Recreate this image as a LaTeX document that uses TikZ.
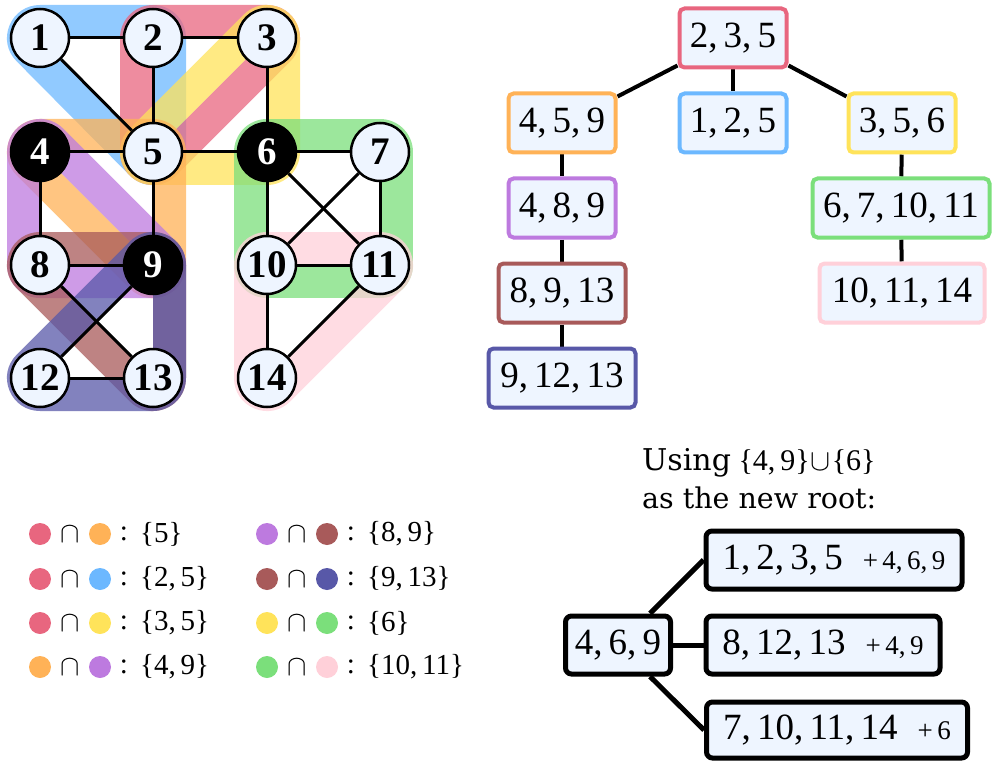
\RequirePackage{fix-cm}
\documentclass[tikz,border=0pt]{standalone}
\usepackage{fontspec}
\setmainfont{Liberation Serif}
\newfontfamily\schfont{DejaVu Serif}
\usetikzlibrary{backgrounds}
\definecolor{cRed}{HTML}{E8667F}
\definecolor{cOrange}{HTML}{FFB257}
\definecolor{cBlue}{HTML}{6CB8FF}
\definecolor{cYellow}{HTML}{FFE35A}
\definecolor{cPurple}{HTML}{BD7ADF}
\definecolor{cBrown}{HTML}{A85A5A}
\definecolor{cIndigo}{HTML}{5858A8}
\definecolor{cGreen}{HTML}{7BDF7B}
\definecolor{cPink}{HTML}{FFD0D9}
\definecolor{nfill}{HTML}{EEF5FF}
\tikzset{
 gnode/.style={circle,draw=black,line width=2.5pt,fill=nfill,minimum size=58pt,inner sep=0pt,font=\fontsize{39}{39}\selectfont\bfseries},
 bnode/.style={gnode,fill=black,text=white},
 gedge/.style={line width=3pt},
 tbox/.style={draw=#1,line width=4pt,rounded corners=5pt,fill=nfill,minimum height=59pt,inner sep=0pt,font=\fontsize{37}{37}\selectfont},
 rbox/.style={draw=black,line width=5pt,rounded corners=6pt,fill=nfill,minimum height=58pt,inner sep=0pt,font=\fontsize{37}{37}\selectfont},
 tedge/.style={line width=4pt},
 redge/.style={line width=5pt},
 ldot/.style={circle,fill=#1,minimum size=22pt,inner sep=0pt},
 ltxt/.style={font=\fontsize{29}{29}\selectfont,inner sep=0pt}
}
\newcommand\band[2]{\begin{scope}\clip (-100,-100) -- (-100,900) -- (1100,900) -- (1100,-100) -- cycle #2 -- cycle;\draw[line width=66pt,line join=round,draw=#1,draw opacity=.75] #2 -- cycle;\end{scope}}
\newcommand\legrow[6]{%
 \node[ldot=#4] (#1a) at (#2,#3) {};
 \node[ltxt] (#1b) at (#2+30,#3) {$\cap$};
 \node[ldot=#5] (#1c) at (#2+60,#3) {};
 \node[ltxt] (#1d) at (#2+84,#3) {:};
 \node[ltxt,anchor=west] (#1e) at (#2+100,#3) {\{#6\}};}
\newcommand\plus[1]{\hspace{20pt}{\fontsize{27}{27}\selectfont +\,#1}}
\begin{document}
\begin{tikzpicture}[x=1pt,y=-1pt]
\useasboundingbox (0,0) rectangle (993,762);
% graph coordinates
\coordinate (c1) at (40,38);
\coordinate (c2) at (153,38);
\coordinate (c3) at (267,38);
\coordinate (c4) at (40,152);
\coordinate (c5) at (153,152);
\coordinate (c6) at (267,152);
\coordinate (c7) at (380,152);
\coordinate (c8) at (40,265);
\coordinate (c9) at (153,265);
\coordinate (c10) at (267,265);
\coordinate (c11) at (380,265);
\coordinate (c12) at (40,378);
\coordinate (c13) at (153,378);
\coordinate (c14) at (267,378);
% bands
\band{cBlue}{(c1) -- (c2) -- (c5)}
\band{cRed}{(c2) -- (c3) -- (c5)}
\band{cYellow}{(c3) -- (c6) -- (c5)}
\band{cOrange}{(c4) -- (c5) -- (c9)}
\band{cPurple}{(c4) -- (c9) -- (c8)}
\band{cBrown}{(c8) -- (c9) -- (c13)}
\band{cIndigo}{(c9) -- (c13) -- (c12)}
\band{cGreen}{(c6) -- (c7) -- (c11) -- (c10)}
\band{cPink}{(c10) -- (c11) -- (c14)}
% nodes
\node[gnode] (n1) at (c1) {1};
\node[gnode] (n2) at (c2) {2};
\node[gnode] (n3) at (c3) {3};
\node[bnode] (n4) at (c4) {4};
\node[gnode] (n5) at (c5) {5};
\node[bnode] (n6) at (c6) {6};
\node[gnode] (n7) at (c7) {7};
\node[gnode] (n8) at (c8) {8};
\node[bnode] (n9) at (c9) {9};
\node[gnode] (n10) at (c10) {10};
\node[gnode] (n11) at (c11) {11};
\node[gnode] (n12) at (c12) {12};
\node[gnode] (n13) at (c13) {13};
\node[gnode] (n14) at (c14) {14};
\foreach \a/\b in {n1/n2,n1/n5,n2/n3,n2/n5,n3/n6,n4/n5,n5/n6,n4/n8,n5/n9,n6/n7,n6/n10,n6/n11,n7/n10,n7/n11,n8/n9,n8/n13,n9/n12,n12/n13,n10/n11,n10/n14,n11/n14}
  \draw[gedge] (\a) -- (\b);
% tree
\node[tbox=cRed,minimum width=107pt] (t235) at (733,38) {2,\,3,\,5};
\node[tbox=cOrange,minimum width=107pt] (t459) at (562,123) {4,\,5,\,9};
\node[tbox=cBlue,minimum width=107pt] (t125) at (733,123) {1,\,2,\,5};
\node[tbox=cYellow,minimum width=107pt] (t356) at (902,123) {3,\,5,\,6};
\node[tbox=cPurple,minimum width=107pt] (t489) at (562,208) {4,\,8,\,9};
\node[tbox=cGreen,minimum width=177pt] (t671011) at (901,208) {6,\,7,\,10,\,11};
\node[tbox=cBrown,minimum width=127pt] (t8913) at (562,293) {8,\,9,\,13};
\node[tbox=cPink,minimum width=165pt] (t101114) at (902,293) {10,\,11,\,14};
\node[tbox=cIndigo,minimum width=147pt] (t91213) at (562,378) {9,\,12,\,13};
\begin{pgfonlayer}{background}
\draw[tedge] ([yshift=4pt]t235.south west) -- ([yshift=-5pt]t459.north east);
\draw[tedge] (t235) -- (t125);
\draw[tedge] ([yshift=4pt]t235.south east) -- ([yshift=-5pt]t356.north west);
\draw[tedge] (t459) -- (t489);
\draw[tedge] (t489) -- (t8913);
\draw[tedge] (t8913) -- (t91213);
\draw[tedge] (t356) -- (t671011);
\draw[tedge] (t671011) -- (t101114);
\end{pgfonlayer}
% legend
\legrow{la}{40}{534}{cRed}{cOrange}{5}
\legrow{lb}{40}{579}{cRed}{cBlue}{2,\,5}
\legrow{lc}{40}{623}{cRed}{cYellow}{3,\,5}
\legrow{ld}{40}{667}{cOrange}{cPurple}{4,\,9}
\legrow{le}{267}{534}{cPurple}{cBrown}{8,\,9}
\legrow{lf}{267}{579}{cBrown}{cIndigo}{9,\,13}
\legrow{lg}{267}{623}{cYellow}{cGreen}{6}
\legrow{lh}{267}{667}{cGreen}{cPink}{10,\,11}
% new root
\node[anchor=base west,inner sep=0pt,font=\fontsize{30}{30}\selectfont] (u1) at (642,470) {{\schfont Using} \{4,\,9\}\hspace{1pt}$\cup$\hspace{1pt}\{6\}};
\node[anchor=base west,inner sep=0pt,font=\schfont\fontsize{28.5}{28.5}\selectfont] (u2) at (642,508) {as the new root:};
\node[rbox,minimum width=105pt] (r469) at (618,645) {4,\,6,\,9};
\node[rbox,minimum width=256pt] (r1) at (834,560) {1,\,2,\,3,\,5\plus{4,\,6,\,9}};
\node[rbox,minimum width=234pt] (r2) at (823,645) {8,\,12,\,13\plus{4,\,9}};
\node[rbox,minimum width=261pt,minimum height=56pt] (r3) at (837,730) {7,\,10,\,11,\,14\plus{6}};
\begin{pgfonlayer}{background}
\draw[redge] ([xshift=32pt]r469.north) -- (r1.west);
\draw[redge] (r469.east) -- (r2.west);
\draw[redge] ([xshift=32pt]r469.south) -- (r3.west);
\end{pgfonlayer}
\end{tikzpicture}
\end{document}
